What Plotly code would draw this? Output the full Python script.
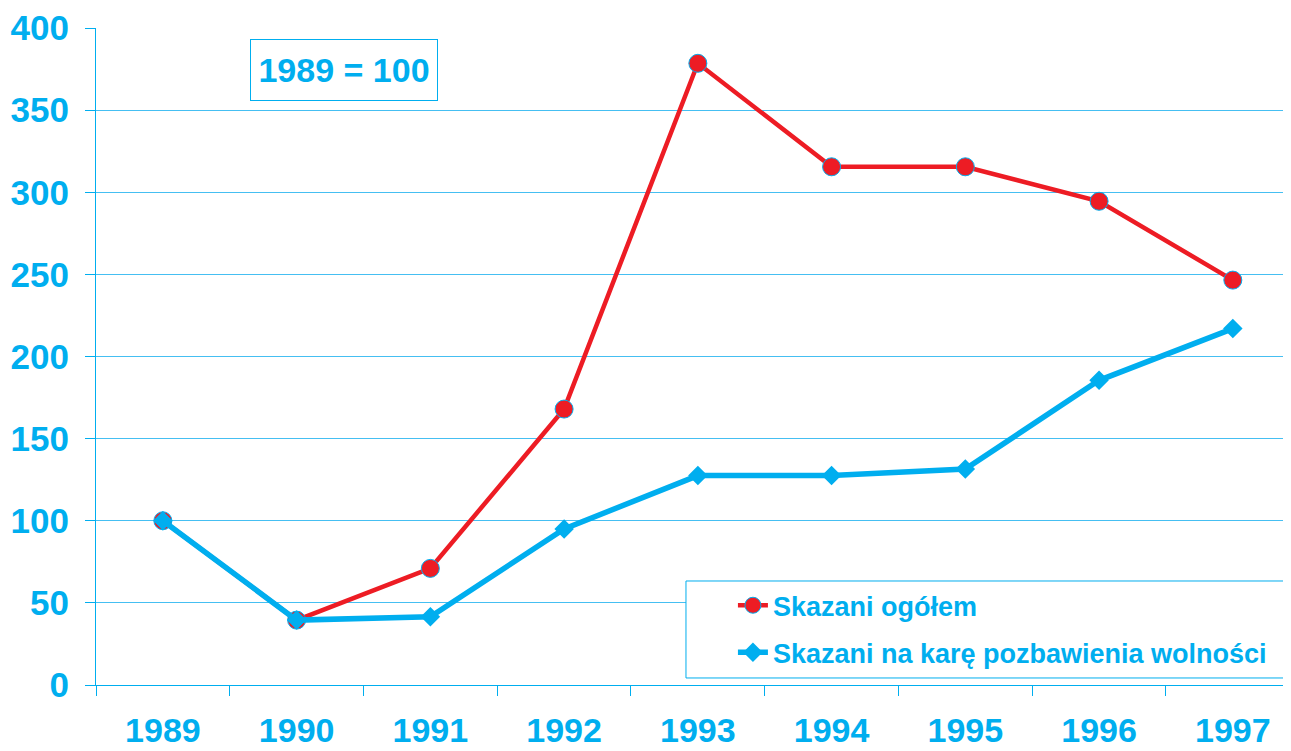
import plotly.graph_objects as go

years = ["1989", "1990", "1991", "1992", "1993", "1994", "1995", "1996", "1997"]
skazani_ogolem = [100, 39.5, 71, 168, 378.5, 315.5, 315.5, 294.5, 246.5]
skazani_wiezienie = [100, 39.5, 41.5, 95, 127.5, 127.5, 131.5, 185.5, 217]
y_ticks = [0, 50, 100, 150, 200, 250, 300, 350, 400]

CYAN = "#00AEEF"
RED = "#ED1C24"
GRID = "#45BFF2"
FONT = "Liberation Sans"

fig = go.Figure()
fig.add_trace(go.Scatter(
    x=years, y=skazani_ogolem, name="Skazani ogółem", mode="lines+markers",
    legendgroup="a",
    line=dict(color=RED, width=4.5),
    marker=dict(symbol="circle", size=18, color=RED, line=dict(color=CYAN, width=1)),
))
fig.add_trace(go.Scatter(
    x=years, y=skazani_wiezienie, name="Skazani na karę pozbawienia wolności",
    mode="lines+markers", legendgroup="b",
    line=dict(color=CYAN, width=5.5),
    marker=dict(symbol="diamond", size=15, color=CYAN, line=dict(color=CYAN, width=0)),
))

fig.update_layout(
    width=1283, height=743, autosize=False,
    margin=dict(l=88, r=0, t=20, b=66, pad=0),
    paper_bgcolor="white", plot_bgcolor="white",
    font=dict(family=FONT, color=CYAN),
    showlegend=True,
    legend=dict(
        x=0.533, y=0.158, xanchor="left", yanchor="top",
        bgcolor="rgba(0,0,0,0)", borderwidth=0,
        font=dict(family=FONT, size=27, color=CYAN, weight="bold"),
        tracegroupgap=9,
    ),
    xaxis=dict(
        type="category", range=[-0.5, 8.435], automargin=False,
        showgrid=False, showline=True, linecolor=CYAN, linewidth=1,
        ticks="outside", tickson="boundaries", ticklen=10, tickcolor=CYAN, tickwidth=1,
        tickfont=dict(family=FONT, size=34, color=CYAN, weight="bold"),
        ticklabelstandoff=15,
    ),
    yaxis=dict(
        range=[0, 400], tickvals=y_ticks, ticktext=[str(v) for v in y_ticks],
        automargin=False,
        showgrid=True, gridcolor=GRID, gridwidth=1, zeroline=False,
        showline=True, linecolor=CYAN, linewidth=1,
        ticks="outside", ticklen=10, tickcolor=CYAN, tickwidth=1,
        tickfont=dict(family=FONT, size=35, color=CYAN, weight="bold"),
        ticklabelstandoff=9,
    ),
    shapes=[dict(
        type="rect", xref="paper", yref="paper",
        x0=0.4937, x1=1.05, y0=0.0107, y1=0.1583,
        line=dict(color=CYAN, width=1), fillcolor="white", layer="above",
    )],
    annotations=[dict(
        text="1989 = 100", xref="paper", yref="paper", x=0.2075, y=0.936,
        xanchor="center", yanchor="middle", showarrow=False,
        font=dict(family=FONT, size=34, color=CYAN, weight="bold"),
        bordercolor=CYAN, borderwidth=1, borderpad=0, bgcolor="white",
        width=186, height=60,
    )],
)

fig.write_html("out.html")
